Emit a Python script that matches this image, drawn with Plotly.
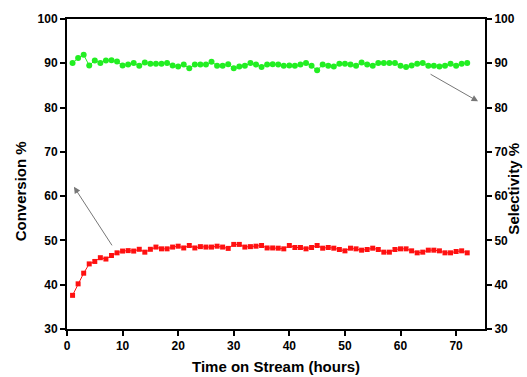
import plotly.graph_objects as go

hours = list(range(1, 73))
conversion = [37.6, 40.2, 42.6, 44.7, 45.25, 46.1, 45.8, 46.6, 47.2, 47.6,
              47.7, 47.6, 48.0, 47.35, 48.0, 48.5, 48.1, 48.1, 48.5, 48.7,
              48.3, 48.85, 48.3, 48.6, 48.5, 48.5, 48.7, 48.5, 48.2, 49.1,
              49.1, 48.5, 48.6, 48.7, 48.85, 48.3, 48.3, 48.25, 48.1, 48.85,
              48.4, 48.4, 48.1, 48.4, 48.85, 48.25, 48.4, 48.25, 47.95, 47.65,
              48.25, 48.1, 47.8, 47.95, 48.25, 47.95, 47.35, 47.35, 47.95, 48.1,
              48.1, 47.65, 47.2, 47.35, 47.8, 47.8, 47.65, 47.2, 47.2, 47.5,
              47.65, 47.2]
selectivity = [90.05, 91.2, 91.9, 89.5, 90.65, 90.05, 90.65, 90.7, 90.4, 89.5,
               89.7, 90.05, 89.45, 90.2, 89.9, 89.9, 89.9, 90.05, 89.5, 89.3,
               89.7, 88.9, 89.7, 89.7, 89.7, 90.35, 89.45, 89.45, 89.8, 88.9,
               89.3, 89.45, 90.05, 89.7, 89.15, 89.7, 89.8, 89.7, 89.45, 89.5,
               89.45, 89.7, 90.05, 89.45, 88.4, 89.7, 89.45, 89.3, 89.9, 89.9,
               89.7, 89.45, 90.2, 89.7, 89.45, 90.05, 90.05, 90.05, 90.05, 89.45,
               89.15, 89.5, 89.9, 90.05, 89.45, 89.45, 89.3, 89.45, 89.9, 89.45,
               89.9, 90.05]
x_ticks = [0, 10, 20, 30, 40, 50, 60, 70]
y_ticks = [30, 40, 50, 60, 70, 80, 90, 100]

FONT = "Liberation Sans, Arial, sans-serif"

fig = go.Figure()
fig.add_trace(go.Scatter(
    x=hours, y=conversion, mode="lines+markers",
    line=dict(color="#ff1010", width=1),
    marker=dict(symbol="square", size=5, color="#ff1010"),
    yaxis="y", showlegend=False))
fig.add_trace(go.Scatter(
    x=hours, y=selectivity, mode="lines+markers",
    line=dict(color="#22ee22", width=1),
    marker=dict(symbol="circle", size=6, color="#22ee22"),
    yaxis="y2", showlegend=False))

axis_common = dict(showline=True, linecolor="black", linewidth=2,
                   ticks="outside", ticklen=5, tickwidth=2, tickcolor="black",
                   showgrid=False, zeroline=False,
                   tickfont=dict(family=FONT, size=12, color="black", weight="bold"))

fig.update_layout(
    width=527, height=377,
    margin=dict(l=67, r=38, t=17, b=48),
    paper_bgcolor="white", plot_bgcolor="white",
    xaxis=dict(range=[0, 75.2], tickvals=x_ticks, mirror=True, **axis_common),
    yaxis=dict(range=[30, 100], tickvals=y_ticks, side="left", **axis_common),
    yaxis2=dict(range=[30, 100], tickvals=y_ticks, side="right",
                overlaying="y", **axis_common),
)

title_font = dict(family=FONT, size=15, color="black", weight="bold")
fig.add_annotation(text="Conversion %", xref="paper", yref="paper",
                   x=(20 - 67) / 422, y=(329 - 190) / 312, textangle=-90,
                   xanchor="center", yanchor="middle",
                   showarrow=False, font=title_font)
fig.add_annotation(text="Selectivity %", xref="paper", yref="paper",
                   x=(518 - 67) / 422, y=(329 - 188) / 312, textangle=-90,
                   xanchor="center", yanchor="middle",
                   showarrow=False, font=title_font)
fig.add_annotation(text="Time on Stream (hours)", xref="paper", yref="paper",
                   x=0.5, y=(329 - 367) / 312, xanchor="center", yanchor="middle",
                   showarrow=False, font=title_font)

fig.add_annotation(x=1.25, y=62.1, xref="x", yref="y", ax=39, ay=60,
                   showarrow=True, arrowhead=2, arrowsize=1.3, arrowwidth=1,
                   arrowcolor="#777777", text="")
fig.add_annotation(x=73.95, y=81.4, xref="x", yref="y", ax=-49, ay=-28,
                   showarrow=True, arrowhead=2, arrowsize=1.3, arrowwidth=1,
                   arrowcolor="#777777", text="")

fig.write_html("out.html")
